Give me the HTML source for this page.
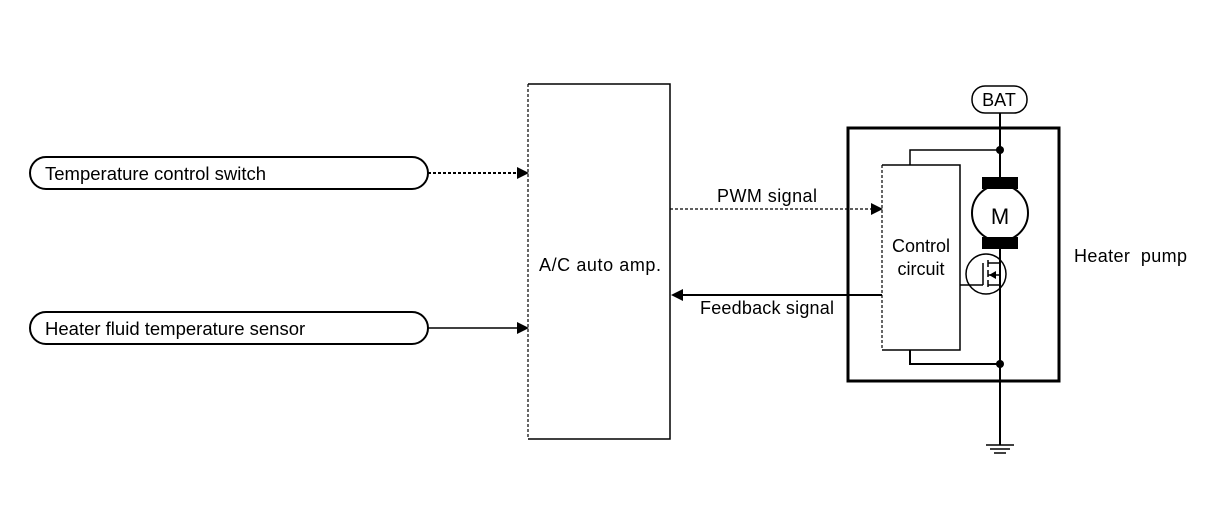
<!DOCTYPE html>
<html><head><meta charset="utf-8"><style>
body{margin:0;background:#fff;}
svg text{font-family:"Liberation Sans",sans-serif;fill:#000;}
</style></head><body>
<svg width="1216" height="512" viewBox="0 0 1216 512" xmlns="http://www.w3.org/2000/svg">
<rect width="1216" height="512" fill="#fff"/>
<g fill="none" stroke="#000">
<rect x="30" y="157" width="398" height="32" rx="16" stroke-width="2"/>
<rect x="30" y="312" width="398" height="32" rx="16" stroke-width="2"/>
<line x1="428" y1="173" x2="518" y2="173" stroke-width="2" stroke-dasharray="3,2"/>
<line x1="428" y1="328" x2="518" y2="328" stroke-width="1.5"/>
<line x1="528" y1="84" x2="528" y2="439" stroke-width="1.2" stroke-dasharray="3,2"/>
<path d="M528 84H670V439H528" stroke-width="1.5"/>
<line x1="670" y1="209" x2="872" y2="209" stroke-width="1.2" stroke-dasharray="3,2"/>
<line x1="682" y1="295" x2="882" y2="295" stroke-width="2"/>
<rect x="848" y="128" width="211" height="253" stroke-width="3"/>
<line x1="882" y1="165" x2="882" y2="350" stroke-width="1.2" stroke-dasharray="3,2"/>
<path d="M882 165H960V350H882" stroke-width="1.5"/>
<path d="M910 165V150H1000" stroke-width="1.5"/>
<path d="M910 350V364H1000" stroke-width="2"/>
<line x1="1000" y1="113" x2="1000" y2="445" stroke-width="2"/>
<rect x="972" y="86" width="55" height="27" rx="13" stroke-width="1.5"/>
<circle cx="1000" cy="213" r="28" stroke-width="2" fill="#fff"/>
<circle cx="986" cy="274" r="20" stroke-width="1.5" fill="#fff"/>
<line x1="960" y1="285" x2="983" y2="285" stroke-width="1.5"/>
<line x1="983" y1="263" x2="983" y2="285" stroke-width="1.5"/>
<line x1="988" y1="260" x2="988" y2="290" stroke-width="1.5" stroke-dasharray="7,3"/>
<path d="M988 263H1000M988 285H1000M988 275H1000" stroke-width="1.5"/>
<line x1="1000" y1="254" x2="1000" y2="295" stroke-width="2"/>
<path d="M986 445H1014M990 449H1010M994 453H1006" stroke-width="1.5"/>
</g>
<g fill="#000">
<polygon points="517,167 529,173 517,179"/>
<polygon points="517,322 529,328 517,334"/>
<polygon points="871,203 883,209 871,215"/>
<polygon points="683,289 671,295 683,301"/>
<polygon points="989,275 996,271 996,279"/>
<rect x="982" y="177" width="36" height="12"/>
<rect x="982" y="237" width="36" height="12"/>
<circle cx="1000" cy="150" r="4"/>
<circle cx="1000" cy="364" r="4"/>
</g>
<text x="45" y="180" font-size="18.5">Temperature control switch</text>
<text x="45" y="335" font-size="18.5">Heater fluid temperature sensor</text>
<text x="539" y="271" font-size="18" textLength="122">A/C auto amp.</text>
<text x="717" y="202" font-size="18" textLength="100">PWM signal</text>
<text x="700" y="314" font-size="18" textLength="134">Feedback signal</text>
<text x="921" y="252" font-size="18" text-anchor="middle">Control</text>
<text x="921" y="275" font-size="18" text-anchor="middle">circuit</text>
<text x="1000" y="224" font-size="22" text-anchor="middle">M</text>
<text x="999" y="106" font-size="18" text-anchor="middle">BAT</text>
<text x="1074" y="262" font-size="18" textLength="113" xml:space="preserve">Heater  pump</text>
</svg>
</body></html>
